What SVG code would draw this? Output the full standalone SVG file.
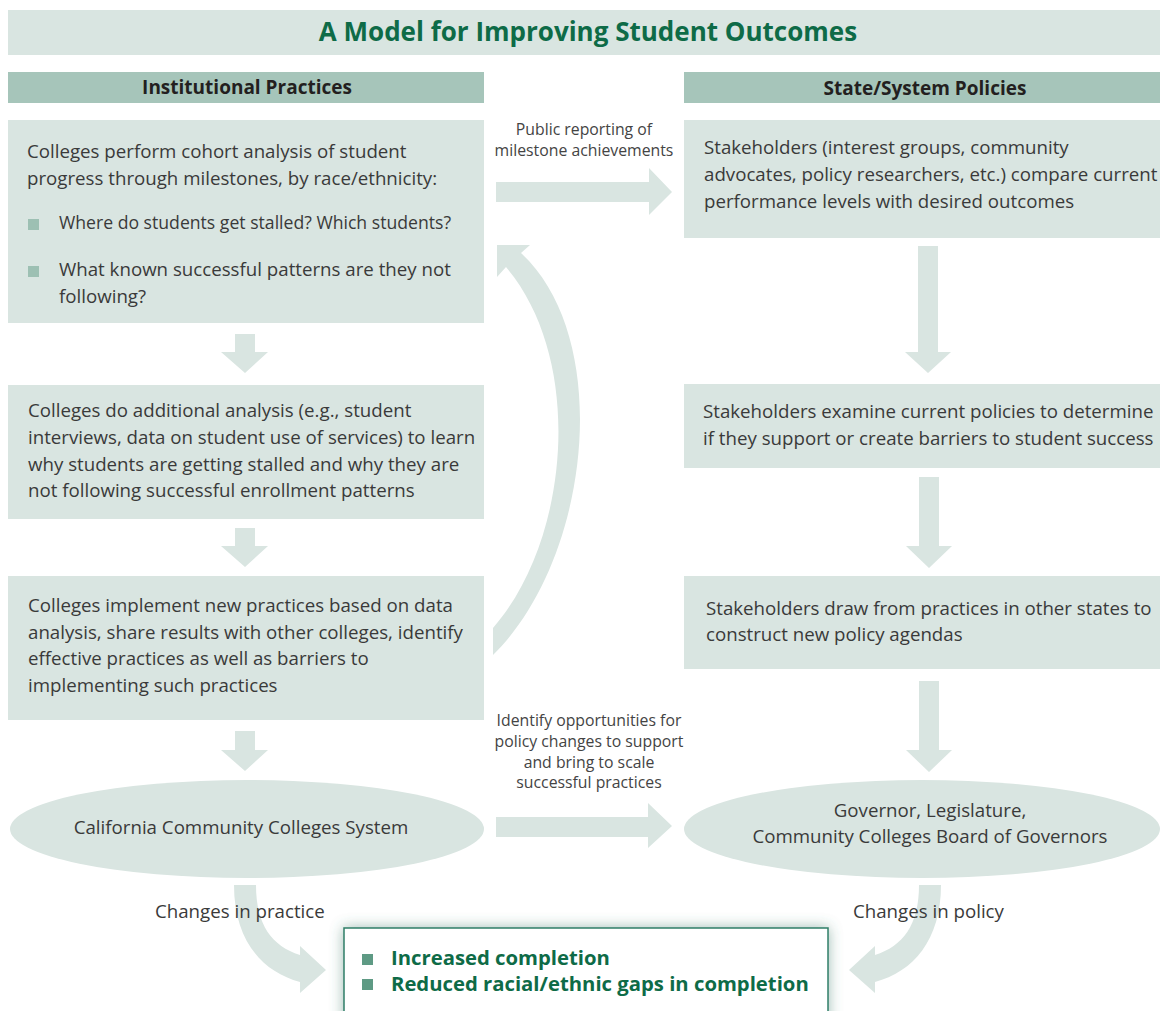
<svg xmlns="http://www.w3.org/2000/svg" width="1160" height="1011" viewBox="0 0 1160 1011">
<style>
.bg{fill:#ffffff}
.light{fill:#D9E5E1}
.hdr{fill:#A6C5BA}
.arr{fill:#D9E5E1}
.title{font-family:"Open Sans","Liberation Sans",sans-serif;font-weight:bold;font-size:26px;fill:#0E6B47}
.htxt{font-family:"Open Sans","Liberation Sans",sans-serif;font-weight:bold;font-size:19px;fill:#231F20}
.body{font-family:"Open Sans","Liberation Sans",sans-serif;font-size:18.7px;fill:#3A3A3A}
.small{font-family:"Open Sans","Liberation Sans",sans-serif;font-size:15.8px;fill:#444444}
.out{font-family:"Open Sans","Liberation Sans",sans-serif;font-weight:bold;font-size:20.3px;fill:#0E6B47}
.bul{fill:#9DC0B3}
.bul2{fill:#5E9A84}
</style>
<defs>
<filter id="shadow" x="-20%" y="-60%" width="140%" height="220%">
<feGaussianBlur in="SourceAlpha" stdDeviation="7" result="b"/>
<feFlood flood-color="#3E7A66" flood-opacity="0.5"/>
<feComposite operator="in" in2="b"/>
<feMerge><feMergeNode/><feMergeNode in="SourceGraphic"/></feMerge>
</filter>
</defs>
<rect class="bg" x="0" y="0" width="1160" height="1011"/>

<g id="title">
<rect class="light" x="8" y="10" width="1152" height="45"/>
<text class="title" x="588" y="41" text-anchor="middle">A Model for Improving Student Outcomes</text>
</g>

<g id="header-left">
<rect class="hdr" x="8" y="72" width="476" height="31"/>
<text class="htxt" x="247" y="94" text-anchor="middle">Institutional Practices</text>
</g>
<g id="header-right">
<rect class="hdr" x="684" y="72" width="476" height="31"/>
<text class="htxt" x="925" y="95" text-anchor="middle">State/System Policies</text>
</g>

<g id="connectors">
<polygon class="arr" points="235,334 255,334 255,352 268,352 245,373 221,352 235,352"/>
<polygon class="arr" points="235,528 255,528 255,546 268,546 245,567 221,546 235,546"/>
<polygon class="arr" points="235,731 255,731 255,750 268,750 245,771 221,750 235,750"/>
<polygon class="arr" points="918,246 938,246 938,352 951,352 928,373 905,352 918,352"/>
<polygon class="arr" points="919,477 939,477 939,546 952,546 929,568 906,546 919,546"/>
<polygon class="arr" points="919,681 939,681 939,750 952,750 929,772 906,750 919,750"/>
<polygon class="arr" points="496,182 649,182 649,168 672,192 649,215 649,202 496,202"/>
<polygon class="arr" points="496,817 648,817 648,803 672,826 648,848 648,837 496,837"/>
<path class="arr" d="M493,655 C590,560 615,340 521,253 L530,245 L497,245 L497,277 L506,267 C585,360 570,540 493,628 Z"/>
<path class="arr" d="M234,885 L256,885 C256,925 272,946 300,955 L300,946 L326,970 L300,993 L300,982 C262,972 234,940 234,885 Z"/>
<path class="arr" d="M941,885 L919,885 C919,925 903,946 875,955 L875,946 L849,970 L875,993 L875,982 C913,972 941,940 941,885 Z"/>
<text class="small" x="584" y="135" text-anchor="middle">Public reporting of</text>
<text class="small" x="584" y="156" text-anchor="middle">milestone achievements</text>
<text class="small" x="589" y="726" text-anchor="middle">Identify opportunities for</text>
<text class="small" x="589" y="747" text-anchor="middle">policy changes to support</text>
<text class="small" x="589" y="768" text-anchor="middle">and bring to scale</text>
<text class="small" x="589" y="788" text-anchor="middle">successful practices</text>
<text class="body" x="155" y="918">Changes in practice</text>
<text class="body" x="853" y="918">Changes in policy</text>
</g>

<g id="box-cohort">
<rect class="light" x="8" y="120" width="476" height="203"/>
<text class="body" x="27" y="158">Colleges perform cohort analysis of student</text>
<text class="body" x="27" y="185">progress through milestones, by race/ethnicity:</text>
<rect class="bul" x="28" y="219" width="11" height="11"/>
<text class="body" x="59" y="229" textLength="392" lengthAdjust="spacingAndGlyphs">Where do students get stalled? Which students?</text>
<rect class="bul" x="28" y="266" width="11" height="11"/>
<text class="body" x="59" y="276">What known successful patterns are they not</text>
<text class="body" x="59" y="303">following?</text>
</g>

<g id="box-additional">
<rect class="light" x="8" y="385" width="476" height="134"/>
<text class="body" x="28" y="417">Colleges do additional analysis (e.g., student</text>
<text class="body" x="28" y="444">interviews, data on student use of services) to learn</text>
<text class="body" x="28" y="471">why students are getting stalled and why they are</text>
<text class="body" x="28" y="497">not following successful enrollment patterns</text>
</g>

<g id="box-implement">
<rect class="light" x="8" y="576" width="476" height="144"/>
<text class="body" x="28" y="612">Colleges implement new practices based on data</text>
<text class="body" x="28" y="639">analysis, share results with other colleges, identify</text>
<text class="body" x="28" y="665">effective practices as well as barriers to</text>
<text class="body" x="28" y="692">implementing such practices</text>
</g>

<g id="box-stakeholders-compare">
<rect class="light" x="684" y="120" width="476" height="118"/>
<text class="body" x="704" y="154">Stakeholders (interest groups, community</text>
<text class="body" x="704" y="181">advocates, policy researchers, etc.) compare current</text>
<text class="body" x="704" y="208">performance levels with desired outcomes</text>
</g>

<g id="box-stakeholders-examine">
<rect class="light" x="684" y="384" width="476" height="84"/>
<text class="body" x="703" y="418">Stakeholders examine current policies to determine</text>
<text class="body" x="703" y="445">if they support or create barriers to student success</text>
</g>

<g id="box-stakeholders-draw">
<rect class="light" x="684" y="576" width="476" height="93"/>
<text class="body" x="706" y="615">Stakeholders draw from practices in other states to</text>
<text class="body" x="706" y="641">construct new policy agendas</text>
</g>

<g id="ellipse-ccc">
<ellipse class="light" cx="247" cy="829" rx="237" ry="49"/>
<text class="body" x="241" y="834" text-anchor="middle">California Community Colleges System</text>
</g>

<g id="ellipse-gov">
<ellipse class="light" cx="922" cy="829" rx="238" ry="49"/>
<text class="body" x="930" y="817" text-anchor="middle">Governor, Legislature,</text>
<text class="body" x="930" y="843" text-anchor="middle">Community Colleges Board of Governors</text>
</g>

<g id="outcomes">
<rect x="344" y="928" width="484" height="110" fill="#ffffff" stroke="#2F7F68" stroke-width="1.5" filter="url(#shadow)"/>
<rect class="bul2" x="362" y="954" width="11" height="11"/>
<text class="out" x="391" y="965">Increased completion</text>
<rect class="bul2" x="362" y="979" width="11" height="11"/>
<text class="out" x="391" y="991">Reduced racial/ethnic gaps in completion</text>
</g>
</svg>
